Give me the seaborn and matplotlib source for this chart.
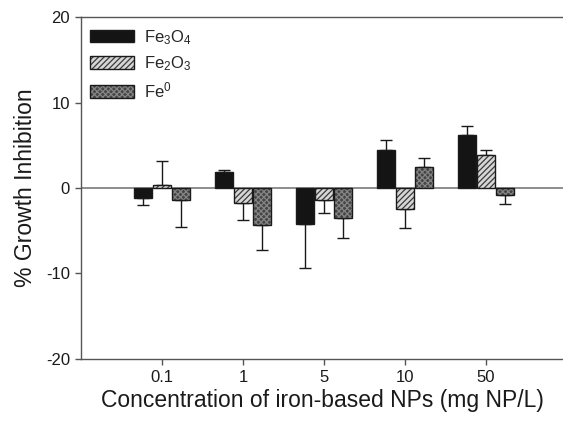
import matplotlib
matplotlib.use("Agg")
import matplotlib.pyplot as plt
import matplotlib.patches as mpatches
from matplotlib.legend_handler import HandlerTuple
import numpy as np
import pandas as pd
import seaborn as sns

# ---- data ----
concentrations = ["0.1", "1", "5", "10", "50"]
series = ["Fe3O4", "Fe2O3", "Fe0"]
series_labels = [r"Fe$_3$O$_4$", r"Fe$_2$O$_3$", r"Fe$^0$"]
fe3o4_vals = [-1.2, 1.9, -4.2, 4.5, 6.2]
fe2o3_vals = [0.3, -1.7, -1.4, -2.4, 3.9]
fe0_vals = [-1.4, -4.3, -3.5, 2.5, -0.8]
fe3o4_err = [0.8, 0.2, 5.1, 1.1, 1.0]
fe2o3_err = [2.9, 2.0, 1.5, 2.3, 0.6]
fe0_err = [3.2, 2.9, 2.3, 1.0, 1.1]
y_ticks = [-20, -10, 0, 10, 20]

values = {"Fe3O4": fe3o4_vals, "Fe2O3": fe2o3_vals, "Fe0": fe0_vals}
errors = {"Fe3O4": fe3o4_err, "Fe2O3": fe2o3_err, "Fe0": fe0_err}

rows = []
for s in series:
    for c, v in zip(concentrations, values[s]):
        rows.append({"conc": c, "series": s, "value": v})
df = pd.DataFrame(rows)

sns.set_style("ticks")
plt.rcParams["font.family"] = ["Liberation Sans", "DejaVu Sans"]
plt.rcParams["mathtext.fontset"] = "custom"
plt.rcParams["mathtext.rm"] = "Liberation Sans"
plt.rcParams["mathtext.it"] = "Liberation Sans"
plt.rcParams["hatch.linewidth"] = 0.9

fig = plt.figure(figsize=(5.63, 4.22), dpi=100)
ax = fig.add_axes([0.1439, 0.1493, 0.8561, 0.8104])

face = {"Fe3O4": "#141414", "Fe2O3": "#d6d6d6", "Fe0": "#444444"}
hatch = {"Fe3O4": None, "Fe2O3": "//////", "Fe0": "xxxxxx"}
hatch_col = {"Fe3O4": "#141414", "Fe2O3": "#3a3a3a", "Fe0": "#858585"}

sns.barplot(data=df, x="conc", y="value", hue="series", order=concentrations,
            hue_order=series, palette=face, errorbar=None, width=0.7, gap=0.08,
            linewidth=0, legend=False, ax=ax, zorder=2)

ax.axhline(0, color="#7a7a7a", lw=1.2, zorder=1)

for s, cont in zip(series, ax.containers):
    for i, p in enumerate(cont.patches):
        p.set_edgecolor(hatch_col[s])
        p.set_linewidth(0)
        if hatch[s]:
            p.set_hatch(hatch[s])
        outline = mpatches.Rectangle((p.get_x(), p.get_y()), p.get_width(), p.get_height(),
                                     fill=False, edgecolor="#1a1a1a", lw=1.0, zorder=3)
        ax.add_patch(outline)
        v = values[s][i]
        e = errors[s][i]
        xc = p.get_x() + p.get_width() / 2
        yerr = [[0], [e]] if v >= 0 else [[e], [0]]
        ax.errorbar([xc], [v], yerr=yerr, fmt="none", ecolor="#1a1a1a",
                    elinewidth=1.0, capsize=4, capthick=1.0, zorder=1.5)

ax.set_xlim(-1, 4.95)
ax.set_ylim(-20, 20)
ax.set_yticks(y_ticks)
ax.set_yticklabels([str(t) for t in y_ticks])

for sp in ["left", "bottom", "top"]:
    ax.spines[sp].set_color("#555555")
    ax.spines[sp].set_linewidth(1.0)
ax.spines["right"].set_visible(False)
ax.tick_params(axis="both", direction="out", length=4, width=1, color="#555555",
               labelsize=12, labelcolor="#1a1a1a", pad=4)

ax.set_xlabel("Concentration of iron-based NPs (mg NP/L)", fontsize=16.5,
              color="#1a1a1a", labelpad=3)
ax.set_ylabel("% Growth Inhibition", fontsize=16.5, color="#1a1a1a", labelpad=6)

handles = []
for s in series:
    h1 = mpatches.Patch(facecolor=face[s], edgecolor=hatch_col[s], hatch=hatch[s], lw=0)
    h2 = mpatches.Patch(fill=False, edgecolor="#1a1a1a", lw=1.0)
    handles.append((h1, h2))
ax.legend(handles, series_labels, handler_map={tuple: HandlerTuple(ndivide=1, pad=0)},
          loc="upper left", bbox_to_anchor=(-0.012, 1.012), frameon=False, fontsize=12,
          handlelength=2.6, handleheight=0.8, handletextpad=0.65, labelspacing=0.45)

fig.savefig("out.png", dpi=100)
